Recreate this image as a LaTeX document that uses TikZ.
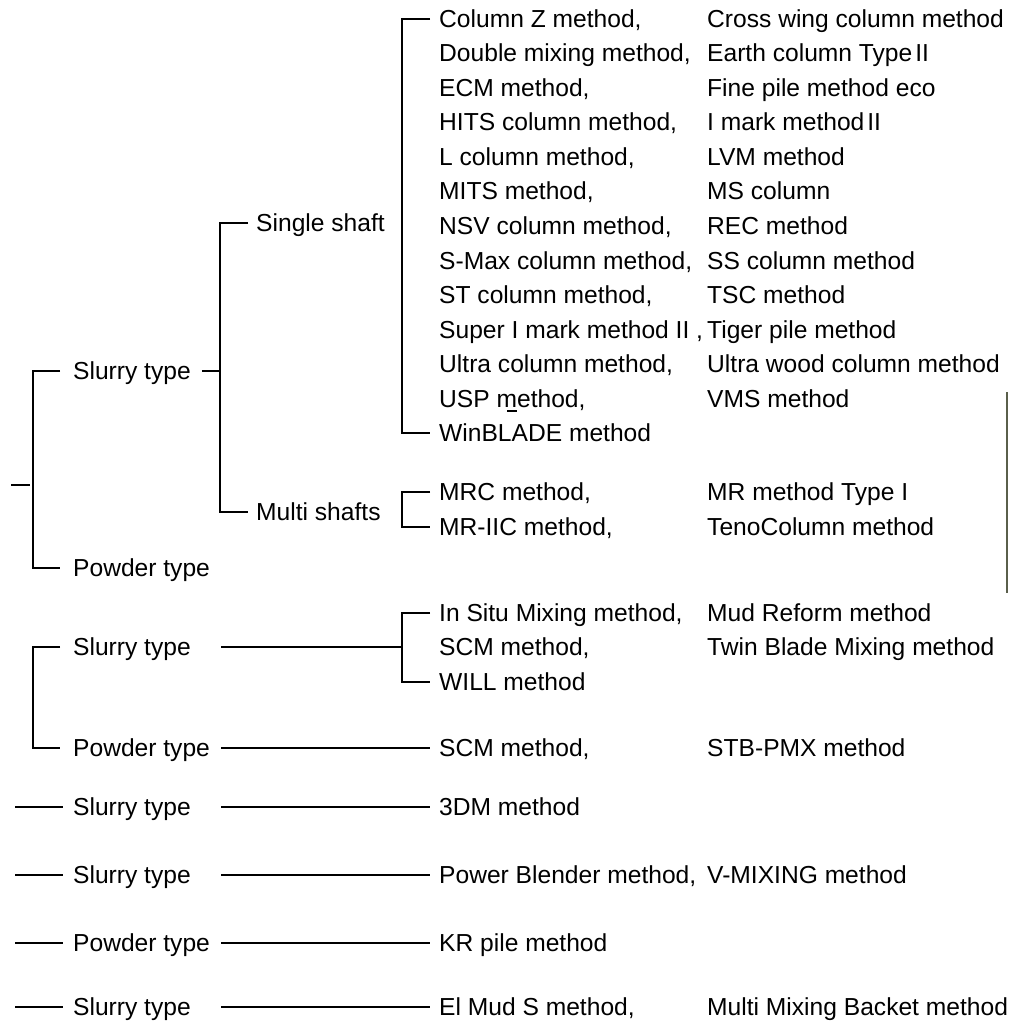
\documentclass[tikz,border=0pt]{standalone}
\usepackage{fontspec}
\setmainfont{Liberation Sans}
\begin{document}
\begin{tikzpicture}[x=1pt,y=-1pt,
  lbl/.style={anchor=west, inner sep=0pt, text height=17pt, text depth=0pt,
    font=\fontsize{24.6pt}{29pt}\selectfont},
  ln/.style={line width=2pt, line cap=butt}]
\useasboundingbox (0,0) rectangle (1008,1024);

% ---------- top tree ----------
\coordinate (root) at (11,485);
\node[lbl] (s1) at (73,371) {Slurry type};
\node[lbl] (p1) at (73,568) {Powder type};
\node[lbl] (ss) at (256,223) {Single shaft};
\node[lbl] (ms) at (256,512) {Multi shafts};
\coordinate (j2) at (220,371);

% single shaft list
\node[lbl] (c0)  at (439,19)    {Column Z method,};
\node[lbl] (c1)  at (439,53.5)  {Double mixing method,};
\node[lbl] (c2)  at (439,88)    {ECM method,};
\node[lbl] (c3)  at (439,122.5) {HITS column method,};
\node[lbl] (c4)  at (439,157)   {L column method,};
\node[lbl] (c5)  at (439,191.5) {MITS method,};
\node[lbl] (c6)  at (439,226)   {NSV column method,};
\node[lbl] (c7)  at (439,260.5) {S-Max column method,};
\node[lbl] (c8)  at (439,295)   {ST column method,};
\node[lbl] (c9)  at (439,329.5) {Super I mark method II ,};
\node[lbl] (c10) at (439,364)   {Ultra column method,};
\node[lbl] (c11) at (439,398.5) {USP m\llap{\rule[-5pt]{10pt}{1.8pt}}ethod,};
\node[lbl] (c12) at (439,433)   {WinBLADE method};

\node[lbl] (d0)  at (707,19)    {Cross wing column method};
\node[lbl] (d1)  at (707,53.5)  {Earth column Type\kern3pt II};
\node[lbl] (d2)  at (707,88)    {Fine pile method eco};
\node[lbl] (d3)  at (707,122.5) {I mark method\kern3pt II};
\node[lbl] (d4)  at (707,157)   {LVM method};
\node[lbl] (d5)  at (707,191.5) {MS column};
\node[lbl] (d6)  at (707,226)   {REC method};
\node[lbl] (d7)  at (707,260.5) {SS column method};
\node[lbl] (d8)  at (707,295)   {TSC method};
\node[lbl] (d9)  at (707,329.5) {Tiger pile method};
\node[lbl] (d10) at (707,364)   {Ultra wood column method};
\node[lbl] (d11) at (707,398.5) {VMS method};

% multi shafts list
\node[lbl] (m0) at (439,492) {MRC method,};
\node[lbl] (m1) at (439,527) {MR-IIC method,};
\node[lbl] (n0) at (707,492) {MR method Type I};
\node[lbl] (n1) at (707,527) {TenoColumn method};

% connectors top
\draw[ln] (root) -- ++(19,0);
\draw[ln] ([xshift=-13pt]s1.west) -- ++(-27.5,0) |- ([xshift=-13pt]p1.west);
\draw[ln] ([xshift=11pt]s1.east) -- (j2);
\draw[ln] ([xshift=-8pt]ss.west) -- ++(-28,0) |- ([xshift=-8pt]ms.west);
\draw[ln] ([xshift=-9pt]c0.west) -- ++(-28,0) |- ([xshift=-9pt]c12.west);
\draw[ln] ([xshift=-9pt]m0.west) -- ++(-28,0) |- ([xshift=-9pt]m1.west);

% ---------- second tree ----------
\node[lbl] (s2) at (73,647) {Slurry type};
\node[lbl] (p2) at (73,748) {Powder type};
\coordinate (s2r) at (221,647);
\coordinate (p2r) at (221,748);
\node[lbl] (l0) at (439,612.5) {In Situ Mixing method,};
\node[lbl] (l1) at (439,647)   {SCM method,};
\node[lbl] (l2) at (439,681.5) {WILL method};
\node[lbl] (k0) at (707,612.5) {Mud Reform method};
\node[lbl] (k1) at (707,647)   {Twin Blade Mixing method};
\node[lbl] (q0) at (439,748) {SCM method,};
\node[lbl] (q1) at (707,748) {STB-PMX method};

\draw[ln] ([xshift=-13pt]s2.west) -- ++(-27.5,0) |- ([xshift=-13pt]p2.west);
\draw[ln] (s2r) -- ([xshift=-37pt]l1.west);
\draw[ln] ([xshift=-9pt]l0.west) -- ++(-28,0) |- ([xshift=-9pt]l2.west);
\draw[ln] (p2r) -- ([xshift=-9pt]q0.west);

% ---------- single rows ----------
\node[lbl] (r3) at (73,807)  {Slurry type};
\node[lbl] (r4) at (73,875)  {Slurry type};
\node[lbl] (r5) at (73,943)  {Powder type};
\node[lbl] (r6) at (73,1007) {Slurry type};
\coordinate (a3) at (15,807);
\coordinate (a4) at (15,875);
\coordinate (a5) at (15,943);
\coordinate (a6) at (15,1007);
\coordinate (b3) at (221,807);
\coordinate (b4) at (221,875);
\coordinate (b5) at (221,943);
\coordinate (b6) at (221,1007);
\node[lbl] (t3) at (439,807)  {3DM method};
\node[lbl] (t4) at (439,875)  {Power Blender method,};
\node[lbl] (u4) at (707,875)  {V-MIXING method};
\node[lbl] (t5) at (439,943)  {KR pile method};
\node[lbl] (t6) at (439,1007) {El Mud S method,};
\node[lbl] (u6) at (707,1007) {Multi Mixing Backet method};

\foreach \k in {3,4,5,6}{
  \draw[ln] (a\k) -- ([xshift=-10pt]r\k.west);
  \draw[ln] (b\k) -- ([xshift=-9pt]t\k.west);
}

% stray edge line at right
\coordinate (e1) at (1007,392);
\coordinate (e2) at (1007,593);
\draw[line width=1.2pt, color={rgb,255:red,90;green,95;blue,75}] (e1) -- (e2);
\end{tikzpicture}
\end{document}
